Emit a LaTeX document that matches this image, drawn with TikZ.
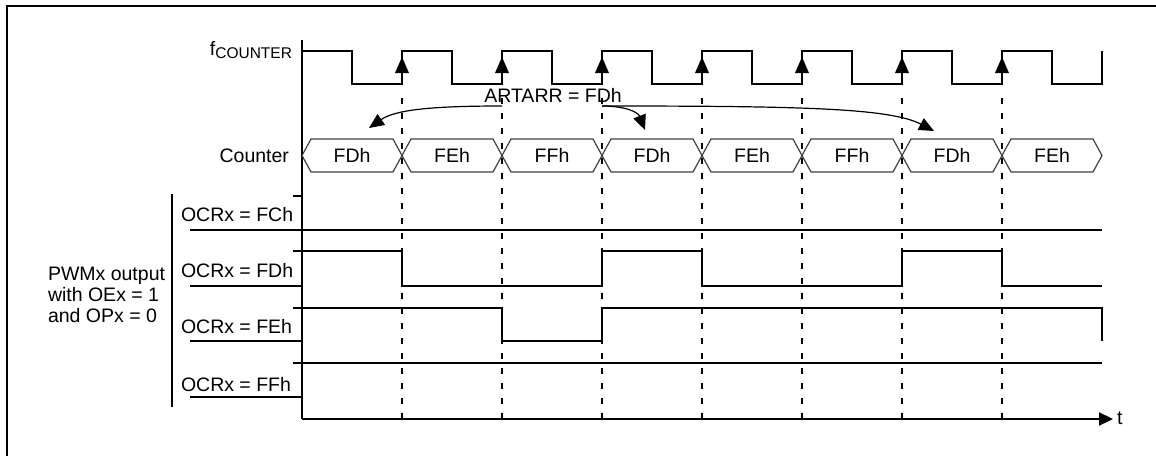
\documentclass[tikz,border=0pt]{standalone}
\usepackage{fontspec}
\setmainfont{Liberation Sans}
\usetikzlibrary{arrows.meta}
\begin{document}
\begin{tikzpicture}[x=1pt,y=-1pt,
  every node/.style={font=\fontsize{19.5}{22}\selectfont, inner sep=0pt, outer sep=0pt},
  wave/.style={line width=2.2pt, line join=miter},
  grid/.style={line width=2.2pt, dash pattern=on 5.5pt off 9.5pt},
  bus/.style={draw=black!75, line width=1.2pt, line join=miter},
  ptr/.style={line width=1.2pt, -{Triangle[length=15pt,width=13pt]}},
  lbl/.style={anchor=base west}]
\useasboundingbox (0,0) rectangle (1156,455);
% frame
\draw[line width=2.2pt] (7,456) -- (7,6) -- (1157,6);
% dashed time lines
\foreach \x in {402,502,...,1002} \draw[grid] (\x,98) -- (\x,419);
% axes
\draw[wave] (302,40) -- (302,419);
\draw[line width=2.2pt, -{Triangle[length=14pt,width=13pt]}] (302,419) -- (1113,419);
\node[anchor=base west] (t) at (1117,424) {t};
% clock
\draw[wave] (302,51)
  \foreach \k in {0,...,7} { -- (352+100*\k,51) -- (352+100*\k,84) -- (402+100*\k,84) -- (402+100*\k,51) };
\foreach \x in {402,502,...,1002} \fill (\x-7,73) -- (\x+7,73) -- (\x,57) -- cycle;
\node[anchor=base east] (fc) at (292,55) {f\raisebox{-3.5pt}{\fontsize{15.5}{16}\selectfont COUNTER}};
% counter bus
\foreach \i/\v in {0/FDh,1/FEh,2/FFh,3/FDh,4/FEh,5/FFh,6/FDh,7/FEh} {
  \draw[bus] (302+100*\i,155.5) -- (311+100*\i,139) -- (393+100*\i,139) -- (402+100*\i,155.5)
     -- (393+100*\i,172) -- (311+100*\i,172) -- cycle;
  \node[anchor=base] (c\i) at (352+100*\i,162) {\v};
}
\node[anchor=base east] (cnt) at (289,162) {Counter};
% ARTARR arrows
\node[anchor=base] (artarr) at (553,102) {ARTARR = FDh};
\coordinate (s1) at (502,106);
\coordinate (s2) at (602,106);
\coordinate (e1) at (369,128);
\coordinate (e2) at (645,130);
\coordinate (e3) at (934,131);
\draw[ptr] (s1) .. controls (430,106) and (395,110) .. (e1);
\draw[ptr] (s2) .. controls (625,106) and (638,112) .. (e2);
\draw[ptr] (s2) .. controls (800,106) and (890,108) .. (e3);
% PWM rows
\draw[wave] (293,196) -- (302,196);
\draw[wave] (172,194) -- (172,407);
\node[lbl] (p1) at (48,280) {PWMx output};
\node[lbl] (p2) at (48,301) {with OEx = 1};
\node[lbl] (p3) at (48,322) {and OPx = 0};
% FCh
\node[lbl] (ocr1) at (181,221) {OCRx = FCh};
\draw[wave] (190,230) -- (1102,230);
% FDh
\node[lbl] (ocr2) at (181,277) {OCRx = FDh};
\draw[wave] (190,286) -- (302,286);
\draw[wave] (293,251) -- (402,251) -- (402,286) -- (602,286) -- (602,251) -- (702,251) -- (702,286)
  -- (902,286) -- (902,251) -- (1002,251) -- (1002,286) -- (1102,286);
% FEh
\node[lbl] (ocr3) at (181,333) {OCRx = FEh};
\draw[wave] (190,341) -- (302,341);
\draw[wave] (293,308) -- (502,308) -- (502,341) -- (602,341) -- (602,308) -- (1102,308) -- (1102,341);
% FFh
\node[lbl] (ocr4) at (181,391) {OCRx = FFh};
\draw[wave] (190,397) -- (302,397);
\draw[wave] (293,363) -- (1102,363);
\end{tikzpicture}
\end{document}
